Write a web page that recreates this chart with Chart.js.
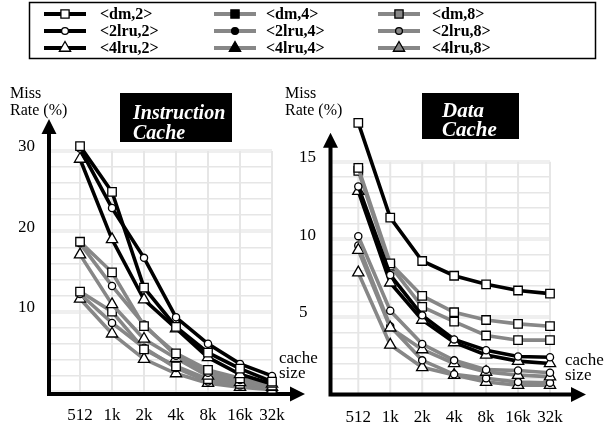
<!DOCTYPE html>
<html>
<head>
<meta charset="utf-8">
<script src="https://cdn.jsdelivr.net/npm/chart.js@4/dist/chart.umd.min.js"></script>
<style>
  body { margin: 0; width: 608px; height: 429px; position: relative; background: #fff; overflow: hidden; font-family: "Liberation Serif", serif; }
  canvas { position: absolute; left: 0; top: 0; }
  .lbl { position: absolute; color: #000; font-size: 16px; line-height: 17px; white-space: nowrap; }
  .size { font-size: 17px; line-height: 15px; }
  .ttl { position: absolute; background: #000; color: #fff; box-sizing: border-box; font: italic bold 20px/20px "Liberation Serif", serif; white-space: nowrap; }
</style>
</head>
<body>
<canvas id="icache" width="608" height="429"></canvas>
<canvas id="dcache" width="608" height="429"></canvas>

<div class="lbl" style="left:10px; top:84px">Miss<br>Rate (%)</div>
<div class="lbl" style="left:285px; top:84px">Miss<br>Rate (%)</div>
<div class="ttl" style="left:120px; top:93px; width:112px; height:49px; padding:9px 0 0 13px">Instruction<br>Cache</div>
<div class="ttl" style="left:422px; top:93px; width:97px; height:46px; padding:8px 0 0 20px; font-size:21px; line-height:19px">Data<br>Cache</div>
<div class="lbl size" style="left:279px; top:350px">cache<br>size</div>
<div class="lbl size" style="left:565px; top:352px">cache<br>size</div>

<script>
// cache sizes along the x axis
const cacheSizes = ['512', '1k', '2k', '4k', '8k', '16k', '32k'];
const seriesNames = ['<dm,2>', '<2lru,2>', '<4lru,2>', '<dm,4>', '<2lru,4>', '<4lru,4>', '<dm,8>', '<2lru,8>', '<4lru,8>'];

// instruction cache miss rates (%)
const instDm2   = [30.6, 24.9, 13.0, 8.1, 4.9, 2.9, 1.3];
const inst2lru2 = [30.3, 22.9, 16.7, 9.3, 6.0, 3.5, 2.0];
const inst4lru2 = [29.0, 19.0, 11.5, 7.9, 4.3, 2.2, 1.0];
const instDm4   = [18.7, 14.9, 8.2, 4.8, 2.75, 1.7, 0.8];
const inst2lru4 = [18.5, 13.2, 8.4, 4.5, 2.4, 1.5, 0.7];
const inst4lru4 = [17.1, 10.9, 6.6, 4.2, 2.0, 1.2, 0.6];
const instDm8   = [12.5, 10.0, 5.3, 3.2, 1.6, 1.0, 0.4];
const inst2lru8 = [12.2, 8.6, 5.5, 3.0, 1.3, 0.8, 0.35];
const inst4lru8 = [11.6, 7.25, 4.1, 2.3, 1.1, 0.6, 0.3];

// data cache miss rates (%)
const dataDm2   = [17.5, 11.4, 8.6, 7.65, 7.1, 6.7, 6.5];
const data2lru2 = [13.4, 7.7, 5.1, 3.55, 2.85, 2.45, 2.4];
const data4lru2 = [13.1, 7.2, 4.8, 3.35, 2.55, 2.15, 2.0];
const dataDm4   = [14.6, 8.45, 6.35, 5.3, 4.8, 4.55, 4.4];
const data2lru4 = [10.2, 5.4, 3.25, 2.2, 1.6, 1.55, 1.4];
const data4lru4 = [9.3, 4.3, 2.9, 2.0, 1.45, 1.25, 1.15];
const dataDm8   = [14.4, 8.3, 5.65, 4.7, 3.8, 3.5, 3.5];
const data2lru8 = [9.6, 4.4, 2.2, 1.3, 1.05, 0.8, 0.75];
const data4lru8 = [7.85, 3.2, 1.75, 1.25, 0.8, 0.6, 0.6];

const instSeries = [instDm2, inst2lru2, inst4lru2, instDm4, inst2lru4, inst4lru4, instDm8, inst2lru8, inst4lru8];
const dataSeries = [dataDm2, data2lru2, data4lru2, dataDm4, data2lru4, data4lru4, dataDm8, data2lru8, data4lru8];

// styling per group (,2 / ,4 / ,8) and per policy (dm / 2lru / 4lru)
const lineColors = ['#000000', '#878787', '#878787'];
const legendFills = ['#ffffff', '#000000', '#878787'];
const pointStyles = ['rect', 'circle', 'triangle'];
const pointRadii = [6, 3.6, 6.5];
const legendRadii = [5.8, 3.4, 6.5];
const serif = '"Liberation Serif", "Times New Roman", serif';

function makeDatasets(series) {
  return series.map((values, i) => ({
    label: seriesNames[i],
    data: values.map((v, k) => ({ x: k, y: v })),
    borderColor: lineColors[Math.floor(i / 3)],
    borderWidth: 3.6,
    pointStyle: pointStyles[i % 3],
    pointRadius: pointRadii[i % 3],
    pointBackgroundColor: '#ffffff',
    pointBorderColor: '#000000',
    pointBorderWidth: 1.3,
    tension: 0,
    clip: false,
  }));
}

// vertical grid lines only up to the top labelled value
const columnGrid = {
  id: 'columnGrid',
  beforeDatasetsDraw(chart, args, opts) {
    const { ctx, scales: { x, y } } = chart;
    const top = y.getPixelForValue(opts.gridMax);
    const bottom = y.getPixelForValue(0);
    ctx.save();
    ctx.strokeStyle = '#e6e6e6';
    ctx.lineWidth = 2;
    ctx.beginPath();
    cacheSizes.forEach((_, i) => {
      const px = x.getPixelForValue(i);
      ctx.moveTo(px, top);
      ctx.lineTo(px, bottom);
    });
    ctx.stroke();
    ctx.restore();
  },
};

// thick black axes with arrow heads
const arrowAxes = {
  id: 'arrowAxes',
  beforeDatasetsDraw(chart, args, opts) {
    const { ctx, chartArea: a, scales: { y } } = chart;
    const y0 = a.bottom + opts.drop;
    const topTip = y.getPixelForValue(opts.gridMax) - opts.up;
    const rightTip = a.right + opts.out;
    ctx.save();
    ctx.strokeStyle = '#000';
    ctx.fillStyle = '#000';
    ctx.lineWidth = 4;
    ctx.beginPath();
    ctx.moveTo(a.left, y0 + 2);
    ctx.lineTo(a.left, topTip + 12);
    ctx.moveTo(a.left - 2, y0);
    ctx.lineTo(rightTip - 12, y0);
    ctx.stroke();
    ctx.beginPath();
    ctx.moveTo(a.left, topTip);
    ctx.lineTo(a.left - 7.5, topTip + 15);
    ctx.lineTo(a.left + 7.5, topTip + 15);
    ctx.closePath();
    ctx.moveTo(rightTip, y0);
    ctx.lineTo(rightTip - 15, y0 - 7.5);
    ctx.lineTo(rightTip - 15, y0 + 7.5);
    ctx.closePath();
    ctx.fill();
    ctx.restore();
  },
};

// boxed legend in three columns at the top of the figure
const boxLegend = {
  id: 'boxLegend',
  afterDraw(chart) {
    const ctx = chart.ctx;
    const colX = [44, 214, 378];
    const textX = [100, 266, 432];
    const rowY = [14, 31, 48];
    ctx.save();
    ctx.lineWidth = 1.5;
    ctx.strokeStyle = '#000';
    ctx.strokeRect(29.5, 2.5, 566, 56);
    seriesNames.forEach((name, i) => {
      const c = Math.floor(i / 3);
      const r = i % 3;
      const x = colX[c];
      const y = rowY[r];
      ctx.strokeStyle = lineColors[c];
      ctx.lineWidth = 4;
      ctx.beginPath();
      ctx.moveTo(x, y);
      ctx.lineTo(x + 42, y);
      ctx.stroke();
      ctx.fillStyle = legendFills[c];
      ctx.strokeStyle = '#000';
      ctx.lineWidth = 1.3;
      Chart.helpers.drawPoint(ctx, { pointStyle: pointStyles[r], radius: legendRadii[r], rotation: 0, borderWidth: 1.3 }, x + 21, y);
      ctx.fillStyle = '#000';
      ctx.font = 'bold 16px ' + serif;
      ctx.textBaseline = 'middle';
      ctx.fillText(name, textX[c], y + 1);
    });
    ctx.restore();
  },
};

function makeChart(id, series, cfg) {
  const plugins = [columnGrid, arrowAxes];
  if (cfg.legend) plugins.push(boxLegend);
  return new Chart(document.getElementById(id), {
    type: 'line',
    data: { datasets: makeDatasets(series) },
    plugins,
    options: {
      responsive: false,
      animation: false,
      events: [],
      layout: { padding: cfg.padding },
      plugins: {
        legend: { display: false },
        tooltip: { enabled: false },
        columnGrid: { gridMax: cfg.gridMax },
        arrowAxes: Object.assign({ gridMax: cfg.gridMax }, cfg.arrows),
      },
      scales: {
        x: {
          type: 'linear',
          min: cfg.xMin,
          max: cacheSizes.length - 1,
          afterBuildTicks: (s) => { s.ticks = cacheSizes.map((_, i) => ({ value: i })); },
          afterFit: (s) => { s.height = cfg.xHeight; },
          border: { display: false },
          grid: { display: false, drawTicks: false },
          ticks: {
            autoSkip: false,
            maxRotation: 0,
            padding: 13,
            color: '#000',
            font: { family: serif, size: 17 },
            callback: (v) => cacheSizes[v],
          },
        },
        y: {
          min: 0,
          max: cfg.yMax,
          afterBuildTicks: (s) => {
            s.ticks = [];
            for (let v = 0; v <= cfg.gridMax; v += cfg.yStep) s.ticks.push({ value: v });
          },
          afterFit: (s) => { s.width = cfg.yWidth; },
          border: { display: false },
          grid: {
            drawTicks: false,
            color: (c) => (c.tick && c.tick.value % cfg.yMajor === 0 ? '#efefef' : '#e6e6e6'),
            lineWidth: (c) => (c.tick && c.tick.value % cfg.yMajor === 0 ? 4 : 1.5),
          },
          ticks: {
            autoSkip: false,
            padding: 14,
            crossAlign: cfg.crossAlign,
            labelOffset: -4,
            color: '#000',
            font: { family: serif, size: 17 },
            callback: (v) => (v > 0 && v % cfg.yMajor === 0 ? String(v) : ''),
          },
        },
      },
    },
  });
}

// 0 at y=392, 30 at y=151 -> 8.033 px per unit; scale top set at 32
makeChart('icache', instSeries, {
  legend: true,
  padding: { left: 19, right: 336, top: 134.9, bottom: 0 },
  xMin: -0.97,
  xHeight: 37,
  yMax: 32,
  gridMax: 30,
  yStep: 2,
  yMajor: 10,
  yWidth: 30,
  crossAlign: 'near',
  arrows: { up: 32, out: 33, drop: 2 },
});

// 0 at y=394.5, 15 at y=161.7 -> 15.52 px per unit; scale top set at 18
makeChart('dcache', dataSeries, {
  legend: false,
  padding: { left: 299, right: 58, top: 115.1, bottom: 0 },
  xMin: -0.87,
  xHeight: 34.5,
  yMax: 18,
  gridMax: 15,
  yStep: 1,
  yMajor: 5,
  yWidth: 31.5,
  crossAlign: 'far',
  arrows: { up: 29, out: 36, drop: 0 },
});
</script>
</body>
</html>
